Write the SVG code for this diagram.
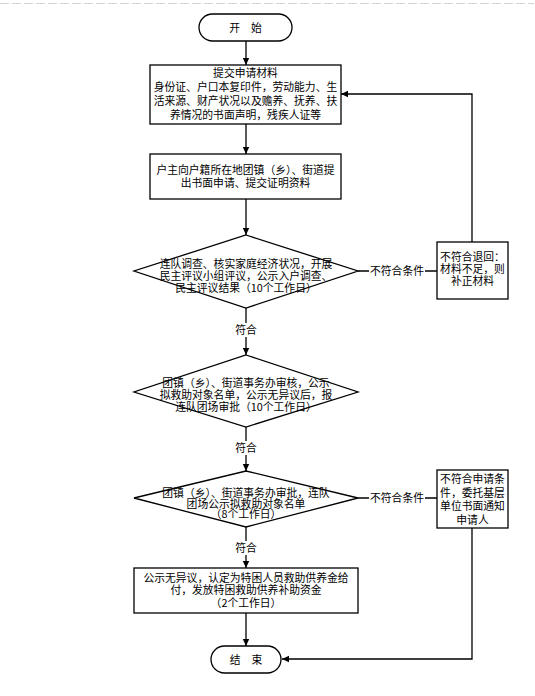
<svg xmlns="http://www.w3.org/2000/svg" width="535" height="696" viewBox="0 0 535 696">
<style>
  .shape { fill: #ffffff; stroke: #000000; stroke-width: 1.3; }
  .line { fill: none; stroke: #000000; stroke-width: 1.3; }
  .t { font-family: "Noto Sans CJK SC", "Noto Sans", sans-serif; font-size: 10.8px; fill: #000000; text-anchor: middle; }
  .bg { fill: #ffffff; stroke: none; }
</style>
<defs>
  <marker id="arr" markerWidth="8" markerHeight="8" refX="7" refY="4" orient="auto" markerUnits="userSpaceOnUse">
    <path d="M0,0.8 L7,4 L0,7.2 Z" fill="#000000"/>
  </marker>
</defs>
<rect x="0" y="0" width="535" height="696" fill="#ffffff"/>
<line x1="0" y1="3.5" x2="534" y2="3.5" stroke="#d4d4d4" stroke-width="1" stroke-dasharray="9 3"/>

<g id="connectors">
  <line class="line" x1="246" y1="41" x2="246" y2="65" marker-end="url(#arr)"/>
  <line class="line" x1="246" y1="124" x2="246" y2="154" marker-end="url(#arr)"/>
  <line class="line" x1="246" y1="199" x2="246" y2="235" marker-end="url(#arr)"/>
  <line class="line" x1="246" y1="308" x2="246" y2="355" marker-end="url(#arr)"/>
  <line class="line" x1="246" y1="427" x2="246" y2="471" marker-end="url(#arr)"/>
  <line class="line" x1="246" y1="527" x2="246" y2="568" marker-end="url(#arr)"/>
  <line class="line" x1="246" y1="613" x2="246" y2="646" marker-end="url(#arr)"/>
  <line class="line" x1="358" y1="271" x2="437" y2="271"/>
  <polyline class="line" points="472,242 472,94 341,94" marker-end="url(#arr)"/>
  <line class="line" x1="358" y1="498" x2="437" y2="498"/>
  <polyline class="line" points="472,528 472,659 282,659" marker-end="url(#arr)"/>
  <rect class="bg" x="233" y="323" width="26" height="14"/>
  <text class="t" x="246" y="334">符合</text>
  <rect class="bg" x="233" y="441" width="26" height="14"/>
  <text class="t" x="246" y="452">符合</text>
  <rect class="bg" x="233" y="541" width="26" height="14"/>
  <text class="t" x="246" y="552">符合</text>
  <rect class="bg" x="369" y="264" width="56" height="14"/>
  <text class="t" x="397" y="275">不符合条件</text>
  <rect class="bg" x="369" y="491" width="56" height="14"/>
  <text class="t" x="397" y="502">不符合条件</text>
</g>

<g id="start">
  <rect class="shape" x="199" y="14" width="93" height="27" rx="13.5" ry="13.5"/>
  <text class="t" x="245.5" y="32">开　始</text>
</g>

<g id="submit">
  <rect class="shape" x="150" y="65" width="191" height="59"/>
  <text class="t" x="245.5" y="76.5">提交申请材料</text>
  <text class="t" x="245.5" y="90.5">身份证、户口本复印件，劳动能力、生</text>
  <text class="t" x="245.5" y="104.5">活来源、财产状况以及赡养、抚养、扶</text>
  <text class="t" x="245.5" y="118.5">养情况的书面声明，残疾人证等</text>
</g>

<g id="apply">
  <rect class="shape" x="150" y="154" width="191" height="45"/>
  <text class="t" x="245.5" y="173.5">户主向户籍所在地团镇（乡）、街道提</text>
  <text class="t" x="245.5" y="186.5">出书面申请、提交证明资料</text>
</g>

<g id="survey">
  <polygon class="shape" points="246,235 358,271 246,308 134,271"/>
  <text class="t" x="246" y="268">连队调查、核实家庭经济状况，开展</text>
  <text class="t" x="246" y="280">民主评议小组评议，公示入户调查、</text>
  <text class="t" x="246" y="291.5">民主评议结果（10个工作日）</text>
</g>

<g id="return">
  <rect class="shape" x="437" y="242" width="71" height="57"/>
  <text class="t" x="472.5" y="261">不符合退回：</text>
  <text class="t" x="472.5" y="273">材料不足，则</text>
  <text class="t" x="472.5" y="285">补正材料</text>
</g>

<g id="review">
  <polygon class="shape" points="246,355 358,392 246,427 134,392"/>
  <text class="t" x="246" y="387">团镇（乡）、街道事务办审核，公示</text>
  <text class="t" x="246" y="399">拟救助对象名单，公示无异议后，报</text>
  <text class="t" x="246" y="411">连队团场审批（10个工作日）</text>
</g>

<g id="approve">
  <polygon class="shape" points="246,471 358,498 246,527 134,498"/>
  <text class="t" x="246" y="497">团镇（乡）、街道事务办审批，连队</text>
  <text class="t" x="246" y="507.5">团场公示拟救助对象名单</text>
  <text class="t" x="246" y="518">（8个工作日）</text>
</g>

<g id="notify">
  <rect class="shape" x="437" y="470" width="71" height="58"/>
  <text class="t" x="472.5" y="483">不符合申请条</text>
  <text class="t" x="472.5" y="496.5">件，委托基层</text>
  <text class="t" x="472.5" y="510">单位书面通知</text>
  <text class="t" x="472.5" y="523.5">申请人</text>
</g>

<g id="pay">
  <rect class="shape" x="134" y="568" width="224" height="45"/>
  <text class="t" x="246" y="582">公示无异议，认定为特困人员救助供养金给</text>
  <text class="t" x="246" y="594">付，发放特困救助供养补助资金</text>
  <text class="t" x="246" y="607">（2个工作日）</text>
</g>

<g id="end">
  <rect class="shape" x="211" y="646" width="70" height="27" rx="13.5" ry="13.5"/>
  <text class="t" x="246" y="664">结　束</text>
</g>
</svg>
